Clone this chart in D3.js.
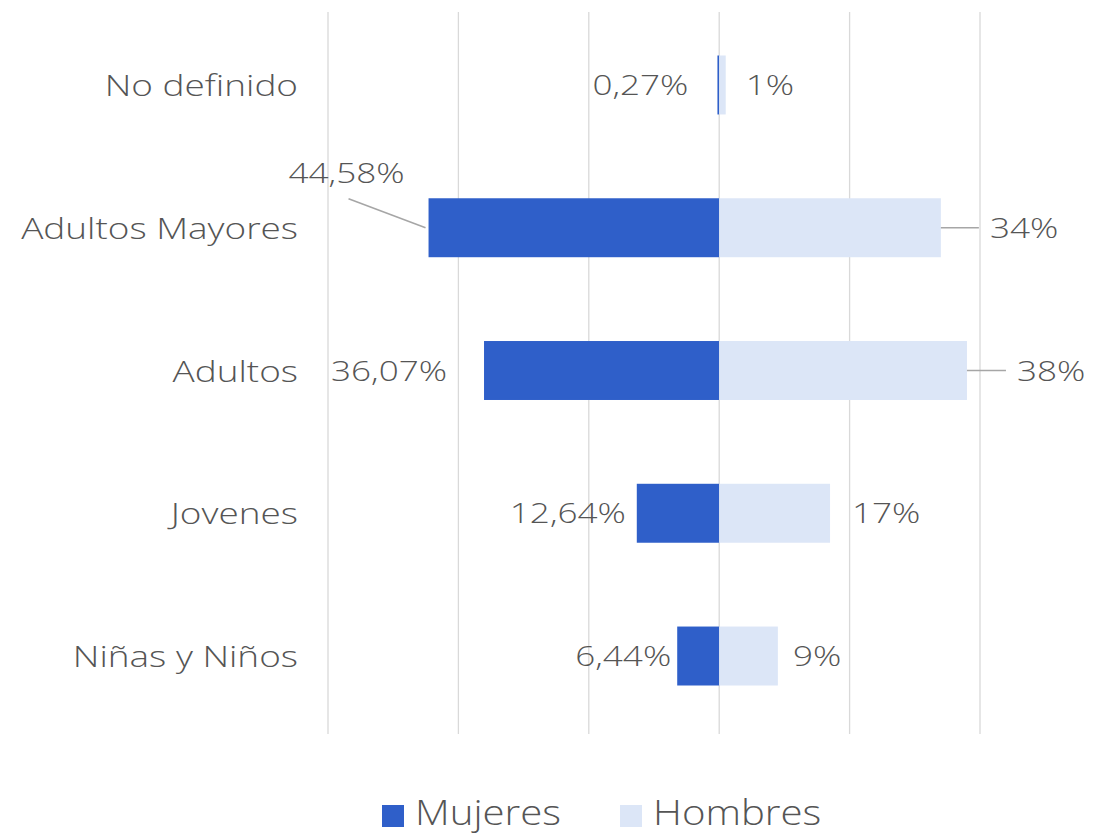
<!DOCTYPE html>
<html><head><meta charset="utf-8">
<script src="https://cdn.jsdelivr.net/npm/d3@7/dist/d3.min.js"></script>
<style>
html,body{margin:0;padding:0;background:#fff;}
text{font-family:"Open Sans",sans-serif;font-weight:300;fill:#555555;}
</style></head>
<body><svg id="c" width="1094" height="836"></svg>
<script>
const categories = ["No definido","Adultos Mayores","Adultos","Jovenes","Niñas y Niños"];
const mujeres = [0.27, 44.58, 36.07, 12.64, 6.44];
const hombres = [1, 34, 38, 17, 9];
const mujeresLabels = ["0,27%","44,58%","36,07%","12,64%","6,44%"];
const hombresLabels = ["1%","34%","38%","17%","9%"];
const ticks = [-60,-40,-20,0,20,40];
const seriesNames = ["Mujeres","Hombres"];
const colors = {Mujeres:"#2F5FC9", Hombres:"#DCE6F7"};

const svg = d3.select("#c");
const x = d3.scaleLinear().domain([-60,40]).range([328,980]);
const y = d3.scaleBand().domain(categories).range([13.6,727.4]).paddingInner(0.587).paddingOuter(0.2935);

svg.append("g").selectAll("line").data(ticks).join("line")
  .attr("x1",d=>x(d)).attr("x2",d=>x(d)).attr("y1",12).attr("y2",734)
  .attr("stroke","#D9D9D9").attr("stroke-width",1.3);

const rows = categories.map((c,i)=>({c, m:mujeres[i], h:hombres[i], ml:mujeresLabels[i], hl:hombresLabels[i], i}));

svg.append("g").selectAll("rect").data(rows).join("rect")
  .attr("x",d=>x(-d.m)).attr("width",d=>x(0)-x(-d.m))
  .attr("y",d=>y(d.c)).attr("height",y.bandwidth()).attr("fill",colors.Mujeres);
svg.append("g").selectAll("rect").data(rows).join("rect")
  .attr("x",x(0)).attr("width",d=>x(d.h)-x(0))
  .attr("y",d=>y(d.c)).attr("height",y.bandwidth()).attr("fill",colors.Hombres);

const cy = d=>y(d.c)+y.bandwidth()/2;

// widen glyphs horizontally (source font is a wide face)
function stretch(g, sx){
  g.selectAll("text").each(function(){
    const s = d3.select(this);
    const tx = +s.attr("x"), ty = +s.attr("y");
    s.attr("x",0).attr("y",0).attr("transform",`translate(${tx},${ty}) scale(${sx},1)`);
  });
}
function widthOf(g, str, fs){
  const t = g.append("text").attr("font-size",fs).text(str);
  const w = t.node().getComputedTextLength(); t.remove(); return w;
}

const catG = svg.append("g");
catG.selectAll("text").data(rows).join("text")
  .attr("x",298).attr("y",d=>cy(d)+11)
  .attr("text-anchor","end").attr("font-size",30).text(d=>d.c);
stretch(catG, 277/widthOf(svg,"Adultos Mayores",30));

const mGap = [29, 0, 37, 11, 6];
const hGap = [20, 49, 50, 22, 15];
const lab = svg.append("g");
const LFS = 27.5;
rows.forEach((d,i)=>{
  if(i===1){
    lab.append("text").attr("x",x(-d.m)-82).attr("y",cy(d)-45)
      .attr("text-anchor","middle").attr("font-size",LFS).text(d.ml);
    svg.append("line").attr("x1",x(-d.m)-80).attr("y1",cy(d)-29).attr("x2",x(-d.m)-3).attr("y2",cy(d))
      .attr("stroke","#A6A6A6").attr("stroke-width",1.5);
  } else {
    lab.append("text").attr("x",x(-d.m)-mGap[i]).attr("y",cy(d)+10)
      .attr("text-anchor","end").attr("font-size",LFS).text(d.ml);
  }
  lab.append("text").attr("x",x(d.h)+hGap[i]).attr("y",cy(d)+10)
    .attr("text-anchor","start").attr("font-size",LFS).text(d.hl);
  if(i===1 || i===2){
    svg.append("line").attr("x1",x(d.h)).attr("x2",x(d.h)+hGap[i]-11).attr("y1",cy(d)).attr("y2",cy(d))
      .attr("stroke","#A6A6A6").attr("stroke-width",1.5);
  }
});
stretch(lab, 116/widthOf(svg,"44,58%",LFS));

const lg = svg.append("g");
const lx = [382, 620];
seriesNames.forEach((s,i)=>{
  lg.append("rect").attr("x",lx[i]).attr("y",805).attr("width",22).attr("height",22).attr("fill",colors[s]);
  lg.append("text").attr("x",lx[i]+33).attr("y",825).attr("font-size",35).text(s);
});
stretch(lg, 146/widthOf(svg,"Mujeres",35));
</script></body></html>
